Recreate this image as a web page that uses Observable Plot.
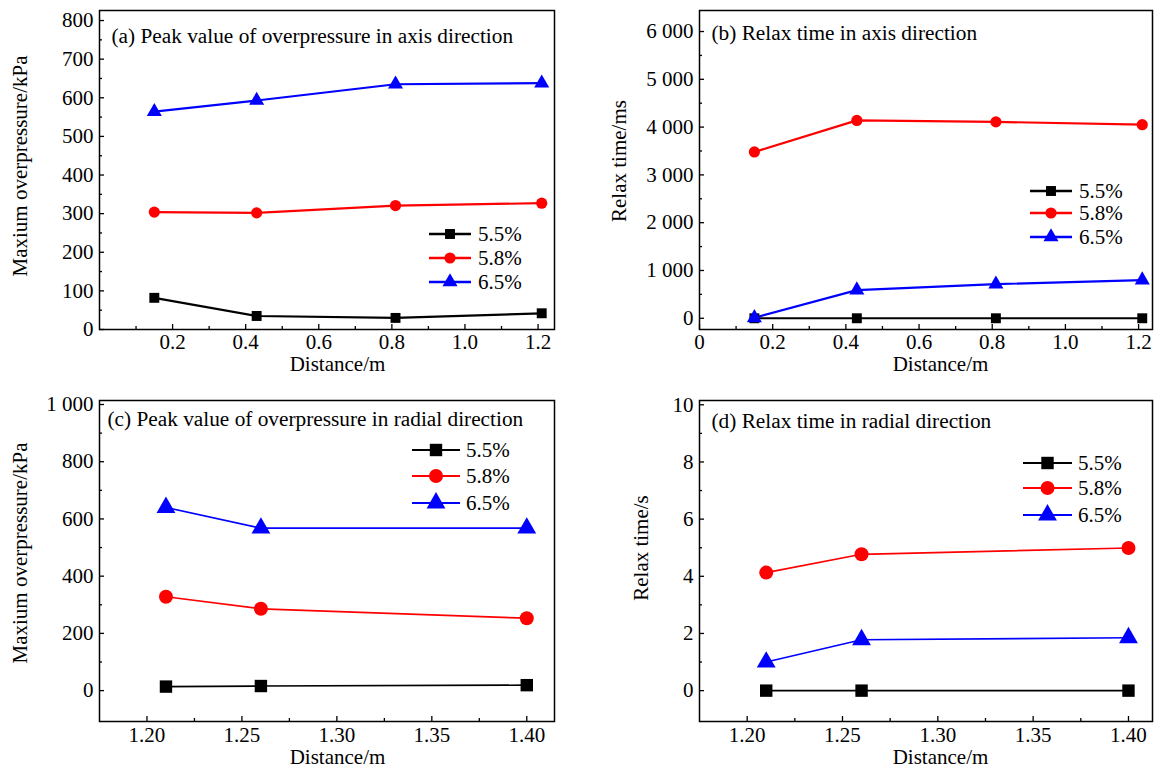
<!DOCTYPE html>
<html><head><meta charset="utf-8">
<script src="https://cdn.jsdelivr.net/npm/d3@7"></script>
<script src="https://cdn.jsdelivr.net/npm/@observablehq/plot@0.6"></script>
<style>
body{margin:0;background:#fff;}
#wrap{position:relative;width:1154px;height:769px;overflow:hidden;font-family:"Liberation Serif";}
#wrap svg{position:absolute;}
#wrap text{font-family:"Liberation Serif";font-variant:normal;}
</style></head><body><div id="wrap"></div>
<script>
// ---- data ----
const series = ["5.5%", "5.8%", "6.5%"];
const seriesColors = ["#000000", "#ff0000", "#0000ff"];
const seriesSymbols = ["square", "circle", "triangle"];

const axialDistance = [0.15, 0.43, 0.81, 1.21];
const radialDistance = [1.21, 1.26, 1.40];

const axialPeak55 = [82, 35, 30, 42];
const axialPeak58 = [304, 302, 321, 327];
const axialPeak65 = [564, 593, 635, 638];

const axialRelax55 = [0, 0, 0, 0];
const axialRelax58 = [3480, 4140, 4110, 4050];
const axialRelax65 = [10, 590, 715, 800];

const radialPeak55 = [14, 16, 19];
const radialPeak58 = [328, 286, 253];
const radialPeak65 = [640, 568, 568];

const radialRelax55 = [0, 0, 0];
const radialRelax58 = [4.13, 4.77, 4.99];
const radialRelax65 = [1.0, 1.78, 1.85];

const panelTitles = [
  "(a) Peak value of overpressure in axis direction",
  "(b) Relax time in axis direction",
  "(c) Peak value of overpressure in radial direction",
  "(d) Relax time in radial direction"
];
const yLabels = ["Maxium overpressure/kPa", "Relax time/ms", "Maxium overpressure/kPa", "Relax time/s"];
const xLabel = "Distance/m";

const ticksXa = [0.2, 0.4, 0.6, 0.8, 1.0, 1.2];
const ticksXaMinor = [0.1, 0.3, 0.5, 0.7, 0.9, 1.1];
const ticksXb = [0, 0.2, 0.4, 0.6, 0.8, 1.0, 1.2];
const ticksXr = [1.20, 1.25, 1.30, 1.35, 1.40];
const ticksXrMinor = [1.225, 1.275, 1.325, 1.375];
const ticksYa = [0, 100, 200, 300, 400, 500, 600, 700, 800];
const ticksYaMinor = [50, 150, 250, 350, 450, 550, 650, 750];
const ticksYb = [0, 1000, 2000, 3000, 4000, 5000, 6000];
const ticksYbMinor = [500, 1500, 2500, 3500, 4500, 5500];
const ticksYc = [0, 200, 400, 600, 800, 1000];
const ticksYcMinor = [100, 300, 500, 700, 900];
const ticksYd = [0, 2, 4, 6, 8, 10];
const ticksYdMinor = [1, 3, 5, 7, 9];

// ---- helpers ----
const FONT = "Liberation Serif";
const FS = 21;
const spaceFmt = d3.formatLocale({decimal: ".", thousands: " ", grouping: [3], currency: ["", ""]}).format(",");
function rows(xs, arrays) {
  const out = [];
  arrays.forEach((arr, i) => arr.forEach((v, j) => out.push({x: xs[j], y: v, s: series[i]})));
  return out;
}

const wrap = document.getElementById("wrap");

function panel(cfg) {
  const data = rows(cfg.xs, cfg.ys);
  const svg = Plot.plot({
    width: 577, height: cfg.height,
    marginLeft: cfg.m[0], marginRight: cfg.m[1], marginTop: cfg.m[2], marginBottom: cfg.m[3],
    style: {fontFamily: FONT, fontSize: FS + "px", background: "transparent", color: "#000"},
    x: {domain: cfg.xDomain},
    y: {domain: cfg.yDomain},
    color: {domain: series, range: seriesColors},
    symbol: {domain: series, range: seriesSymbols},
    marks: [
      Plot.axisY({ticks: cfg.yTicks, tickSize: 0, tickPadding: 6, tickFormat: cfg.yFmt, label: null, fontSize: FS, fontVariant: "normal"}),
      Plot.axisY({ticks: cfg.yTicks, tickSize: -5, tickFormat: () => "", label: null, strokeWidth: 1.3}),
      Plot.axisY({ticks: cfg.yMinor, tickSize: -3, tickFormat: () => "", label: null, strokeWidth: 1.3}),
      Plot.axisX({ticks: cfg.xTicks, tickSize: 0, tickPadding: cfg.xPad, tickFormat: cfg.xFmt, label: null, fontSize: FS, fontVariant: "normal"}),
      Plot.axisX({ticks: cfg.xTicks, tickSize: -5, tickFormat: () => "", label: null, strokeWidth: 1.3}),
      Plot.axisX({ticks: cfg.xMinor, tickSize: -3, tickFormat: () => "", label: null, strokeWidth: 1.3}),
      Plot.line(data, {x: "x", y: "y", z: "s", stroke: "s", strokeWidth: cfg.lw}),
      Plot.dot(data, {x: "x", y: "y", symbol: "s", fill: "s", r: cfg.r}),
      Plot.text([cfg.title], {frameAnchor: "top-left", text: d => d, textAnchor: "start", lineAnchor: "middle", dx: cfg.tdx, dy: cfg.tdy, fontSize: 21.3}),
      Plot.text([cfg.yLabel], {frameAnchor: "left", text: d => d, rotate: -90, textAnchor: "middle", lineAnchor: "middle", dx: cfg.yl[0], dy: cfg.yl[1], fontSize: FS}),
      Plot.text([xLabel], {frameAnchor: "bottom", text: d => d, textAnchor: "middle", lineAnchor: "middle", dx: cfg.xl[0], dy: cfg.xl[1], fontSize: FS}),
      Plot.frame({stroke: "#000", strokeWidth: 1.5})
    ]
  });
  svg.style.left = cfg.left + "px";
  svg.style.top = cfg.top + "px";
  wrap.appendChild(svg);
}

panel({left: 0, top: 0, height: 384, m: [99, 23, 10, 55],
  xs: axialDistance, ys: [axialPeak55, axialPeak58, axialPeak65],
  xDomain: [0, 1.245], yDomain: [0, 826],
  xTicks: ticksXa, xMinor: ticksXaMinor, xFmt: d3.format(".1f"), xPad: 5,
  yTicks: ticksYa, yMinor: ticksYaMinor, yFmt: d => spaceFmt(d),
  lw: 2.2, r: 5.6, title: panelTitles[0], tdx: 12, tdy: 26,
  yLabel: yLabels[0], yl: [-79, -4], xl: [10.5, 35]});

panel({left: 577, top: 0, height: 384, m: [122, 2, 10, 55],
  xs: axialDistance, ys: [axialRelax55, axialRelax58, axialRelax65],
  xDomain: [0, 1.238], yDomain: [-235, 6440],
  xTicks: ticksXb, xMinor: ticksXaMinor, xFmt: d => d === 0 ? "0" : d3.format(".1f")(d), xPad: 5,
  yTicks: ticksYb, yMinor: ticksYbMinor, yFmt: d => spaceFmt(d),
  lw: 2.2, r: 5.6, title: panelTitles[1], tdx: 12, tdy: 23,
  yLabel: yLabels[1], yl: [-80, -9], xl: [14.5, 35]});

panel({left: 0, top: 384, height: 385, m: [99, 23, 16, 48],
  xs: radialDistance, ys: [radialPeak55, radialPeak58, radialPeak65],
  xDomain: [1.175, 1.4146], yDomain: [-108, 1014],
  xTicks: ticksXr, xMinor: ticksXrMinor, xFmt: d3.format(".2f"), xPad: 6,
  yTicks: ticksYc, yMinor: ticksYcMinor, yFmt: d => spaceFmt(d),
  lw: 1.7, r: 7, title: panelTitles[2], tdx: 8, tdy: 19,
  yLabel: yLabels[2], yl: [-79, -8], xl: [10.5, 36]});

panel({left: 577, top: 384, height: 385, m: [122, 2, 16, 48],
  xs: radialDistance, ys: [radialRelax55, radialRelax58, radialRelax65],
  xDomain: [1.175, 1.4126], yDomain: [-1.08, 10.15],
  xTicks: ticksXr, xMinor: ticksXrMinor, xFmt: d3.format(".2f"), xPad: 6,
  yTicks: ticksYd, yMinor: ticksYdMinor, yFmt: d => String(d),
  lw: 1.7, r: 7, title: panelTitles[3], tdx: 12, tdy: 21,
  yLabel: yLabels[3], yl: [-58, -13], xl: [14.5, 36]});

// ---- legends (overlay) ----
const legendBoxes = [
  {x0: 429, x1: 471, tx: 478, ys: [234, 258, 282], r: 5.6, lw: 2.5},
  {x0: 1030, x1: 1072, tx: 1079, ys: [191, 213, 237], r: 5.6, lw: 2.5},
  {x0: 412, x1: 460, tx: 466, ys: [450, 476, 503], r: 7, lw: 1.8},
  {x0: 1023, x1: 1072, tx: 1078, ys: [463, 488, 515], r: 7, lw: 1.8}
];
const symMap = {square: d3.symbolSquare, circle: d3.symbolCircle, triangle: d3.symbolTriangle};
const ov = d3.select(wrap).append("svg").attr("width", 1154).attr("height", 769)
  .style("left", "0px").style("top", "0px").style("pointer-events", "none");
legendBoxes.forEach(b => {
  series.forEach((s, i) => {
    const y = b.ys[i];
    ov.append("line").attr("x1", b.x0).attr("x2", b.x1).attr("y1", y).attr("y2", y)
      .attr("stroke", seriesColors[i]).attr("stroke-width", b.lw);
    ov.append("path").attr("transform", `translate(${(b.x0 + b.x1) / 2},${y})`)
      .attr("d", d3.symbol(symMap[seriesSymbols[i]], Math.PI * b.r * b.r)())
      .attr("fill", seriesColors[i]);
    ov.append("text").attr("x", b.tx).attr("y", y).attr("dy", "0.35em")
      .attr("font-family", FONT).attr("font-size", FS).text(s);
  });
});
</script></body></html>
